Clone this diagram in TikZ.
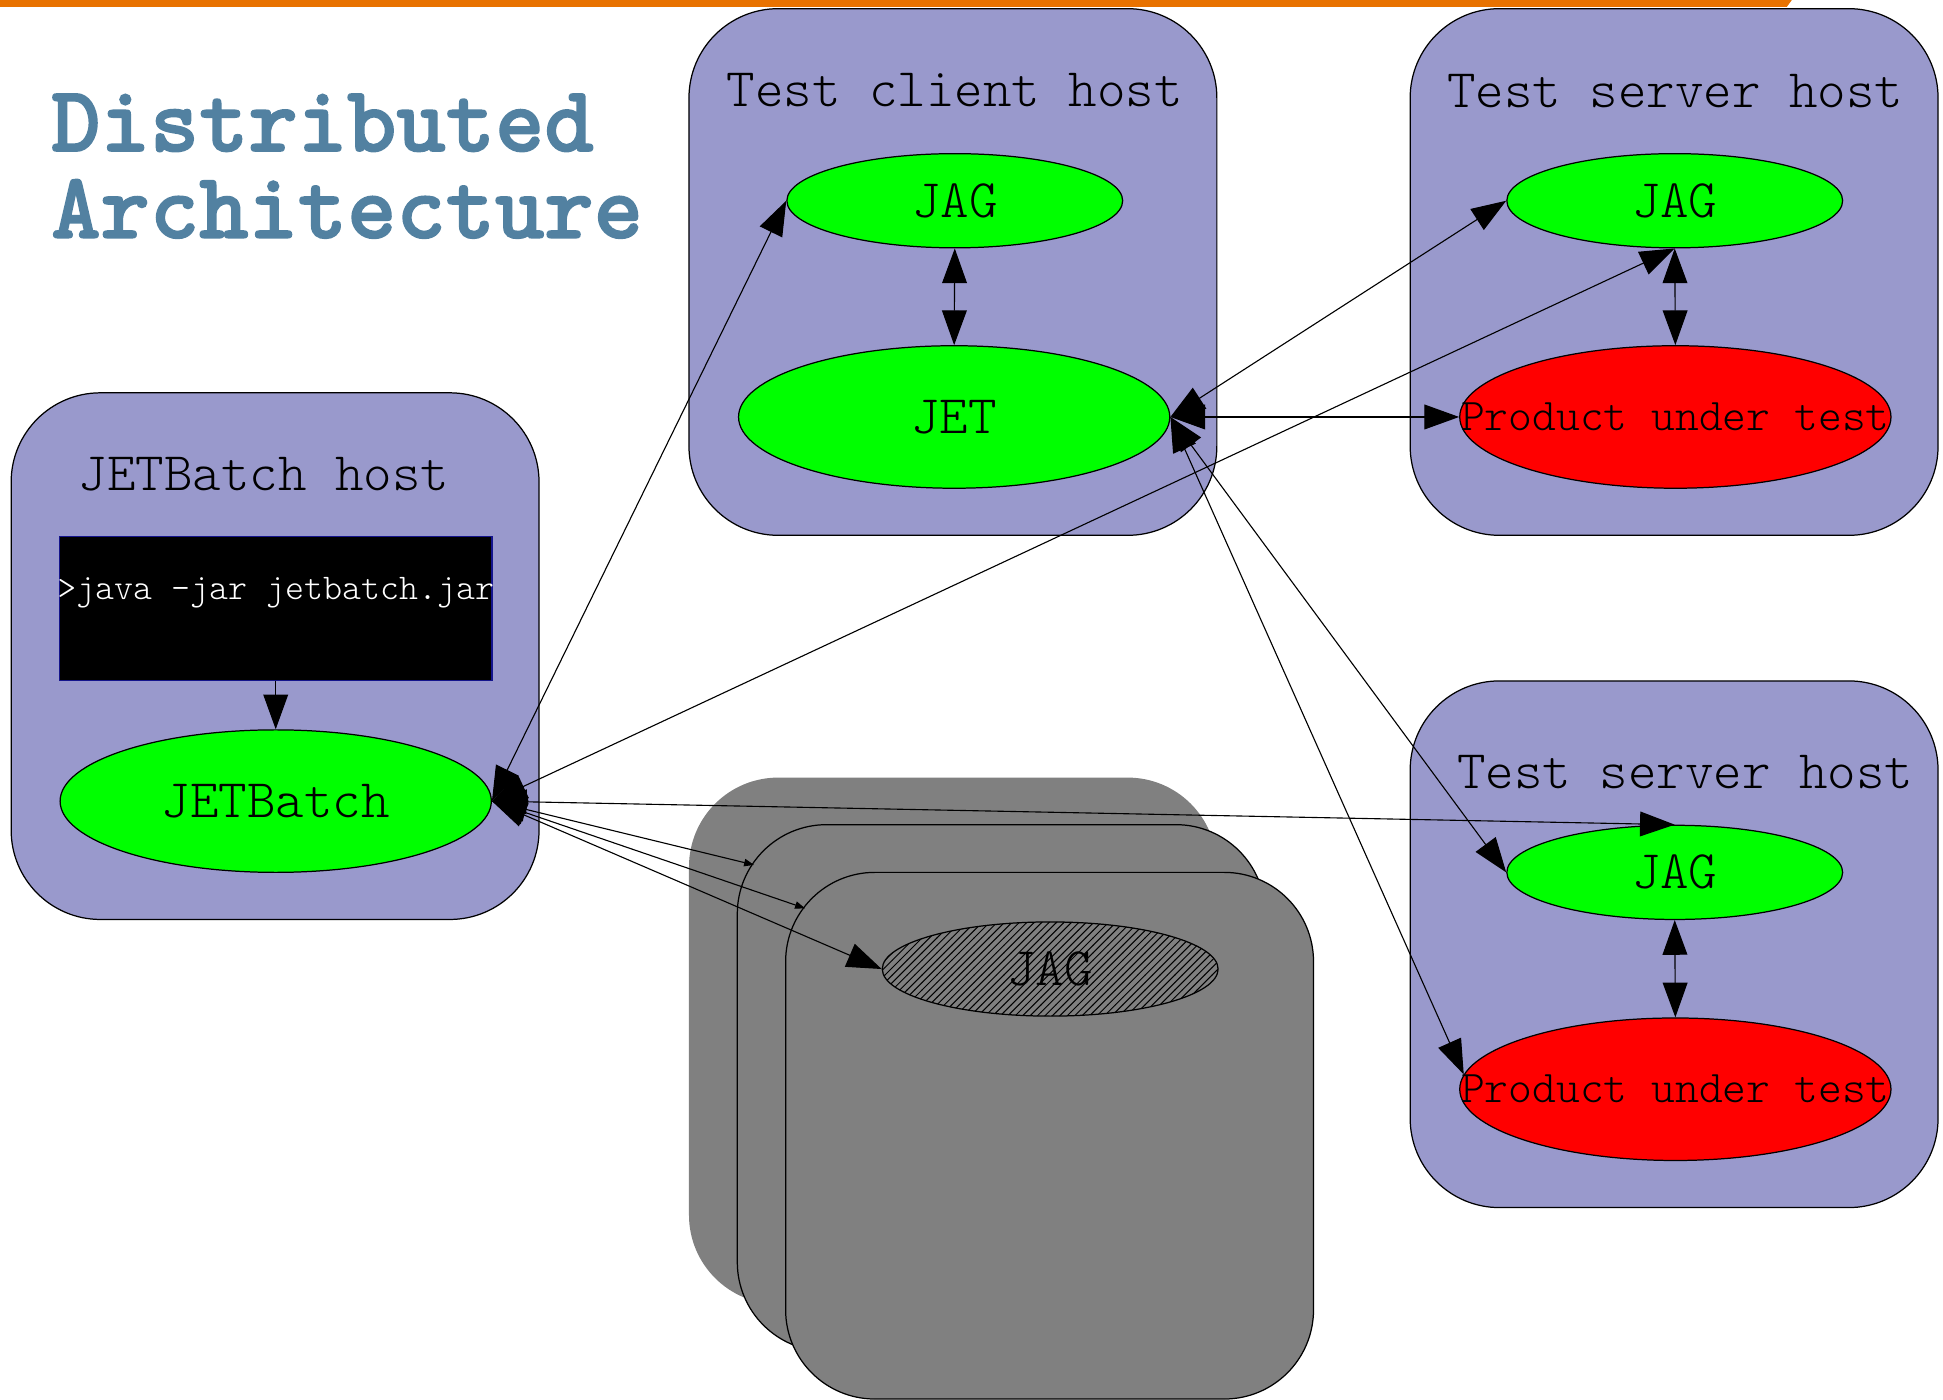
\documentclass[tikz,border=0pt]{standalone}
\usepackage{fontspec}
\newfontfamily\monofont{lmmonolt10-regular.otf}
\newfontfamily\monobold{lmmonolt10-bold.otf}[FakeBold=1.6]
\usetikzlibrary{shapes.geometric,arrows.meta,patterns}
\definecolor{barorange}{RGB}{232,114,0}
\definecolor{titleblue}{RGB}{82,129,161}
\definecolor{hostfill}{RGB}{153,153,204}
\definecolor{stackgray}{RGB}{128,128,128}
\definecolor{nodegreen}{RGB}{0,255,0}
\definecolor{nodered}{RGB}{255,0,0}
\definecolor{cmdborder}{RGB}{20,20,140}

\begin{document}
\begin{tikzpicture}[x=0.5pt,y=-0.5pt,
  hostbox/.style={draw=black, line width=0.5pt, fill=hostfill, rounded corners=36pt,
    minimum width=213pt, minimum height=212.5pt, inner sep=0pt},
  stackbox/.style={fill=stackgray, rounded corners=36pt,
    minimum width=213pt, minimum height=212.5pt, inner sep=0pt},
  labelfont/.style={font=\monofont\fontsize{21.9pt}{24pt}\selectfont},
  hostlabel/.style={labelfont, inner sep=0pt, anchor=base},
  titletext/.style={font=\monobold\fontsize{37.9pt}{40pt}\selectfont, text=titleblue,
    inner sep=0pt, anchor=base west},
  agent/.style={ellipse, draw=black, line width=0.5pt, fill=nodegreen, inner sep=0pt,
    minimum width=135.5pt, minimum height=38pt, labelfont},
  bigagent/.style={agent, minimum width=174pt, minimum height=57.5pt},
  product/.style={ellipse, draw=black, line width=0.5pt, fill=nodered, inner sep=0pt,
    minimum width=174pt, minimum height=57.5pt},
  producttext/.style={font=\monofont\fontsize{18.3pt}{20pt}\selectfont, inner sep=0pt},
  dbl/.style={line width=0.45pt, {Triangle[length=14pt,width=10pt]}-{Triangle[length=14pt,width=10pt]}},
  dblsmall/.style={line width=0.45pt, {Triangle[length=14pt,width=10pt]}-{Triangle[length=4pt,width=3pt]}},
  single/.style={line width=0.45pt, -{Triangle[length=14pt,width=10pt]}}
]
\useasboundingbox (0,0) rectangle (1568,1129);

% top rule
\fill[barorange] (0,0) -- (1446,0) -- (1442,5.5) -- (0,5.5) -- cycle;

% title
\node[titletext] (title1) at (41,122) {Distributed};
\node[titletext] (title2) at (41,192) {Architecture};

% host containers
\node[hostbox] (clienthost) at (769,219.5) {};
\node[hostbox] (serverhostA) at (1351,219.5) {};
\node[hostbox] (batchhost) at (222,529.5) {};
\node[hostbox] (serverhostB) at (1351,762) {};

% stack of further hosts
\node[stackbox] (stackback) at (769,840) {};
\node[stackbox, draw=black, line width=0.5pt] (stackmid) at (808,878) {};
\node[stackbox, draw=black, line width=0.5pt] (stackfront) at (847,916.5) {};

% host labels
\node[hostlabel] (clientlabel) at (770.5,86) {Test client host};
\node[hostlabel] (serverlabelA) at (1352,87) {Test server host};
\node[hostlabel] (batchlabel) at (213,396) {JETBatch host};
\node[hostlabel] (serverlabelB) at (1360,636) {Test server host};

% command console
\node[draw=cmdborder, line width=0.5pt, fill=black, minimum width=174.5pt, minimum height=58pt,
  inner sep=0pt] (cmd) at (222.5,491) {};
\node[font=\monofont\fontsize{14.6pt}{16pt}\selectfont, text=white, inner sep=0pt, anchor=base]
  (cmdtext) at (222.5,484) {>java -jar jetbatch.jar};

% processes
\node[agent] (cjag) at (770.5,162) {JAG};
\node[bigagent] (jet) at (770,336.5) {JET};
\node[agent] (sjagA) at (1351.5,162) {JAG};
\node[product] (prodA) at (1352,336.5) {};
\node[producttext] (prodAtext) at (prodA) {Product under test};
\node[bigagent] (jetbatch) at (222.5,646.5) {JETBatch};
\node[agent] (sjagB) at (1351.5,704) {JAG};
\node[product] (prodB) at (1352,879) {};
\node[producttext] (prodBtext) at (prodB) {Product under test};
\node[ellipse, draw=black, line width=0.5pt, pattern=north east lines, pattern color=black,
  inner sep=0pt, minimum width=135.5pt, minimum height=38pt] (hjag) at (847.5,782) {};
\node[labelfont, inner sep=0pt] (hjaglabel) at (hjag) {JAG};

% cluster entry points on the stacked hosts
\coordinate (midcorner) at (608.5,698);
\coordinate (frontcorner) at (649.6,733);

% connections inside hosts
\draw[dbl] (cjag.south) -- (jet.north);
\draw[dbl] (sjagA.south) -- (prodA.north);
\draw[dbl] (sjagB.south) -- (prodB.north);
\draw[single] (cmd.south) -- (jetbatch.north);

% JETBatch links
\draw[dbl] (jetbatch.east) -- (cjag.west);
\draw[dbl] (jetbatch.east) -- (sjagA.south);
\draw[dbl] (jetbatch.east) -- (sjagB.north);
\draw[dblsmall] (jetbatch.east) -- (midcorner);
\draw[dblsmall] (jetbatch.east) -- (frontcorner);
\draw[dbl] (jetbatch.east) -- (hjag.west);

% JET links
\draw[dbl] (jet.east) -- (sjagA.west);
\draw[dbl] (jet.east) -- (prodA.west);
\draw[dbl] (jet.east) -- (sjagB.west);
\draw[dbl] (jet.east) -- (prodB.176);
\end{tikzpicture}
\end{document}
